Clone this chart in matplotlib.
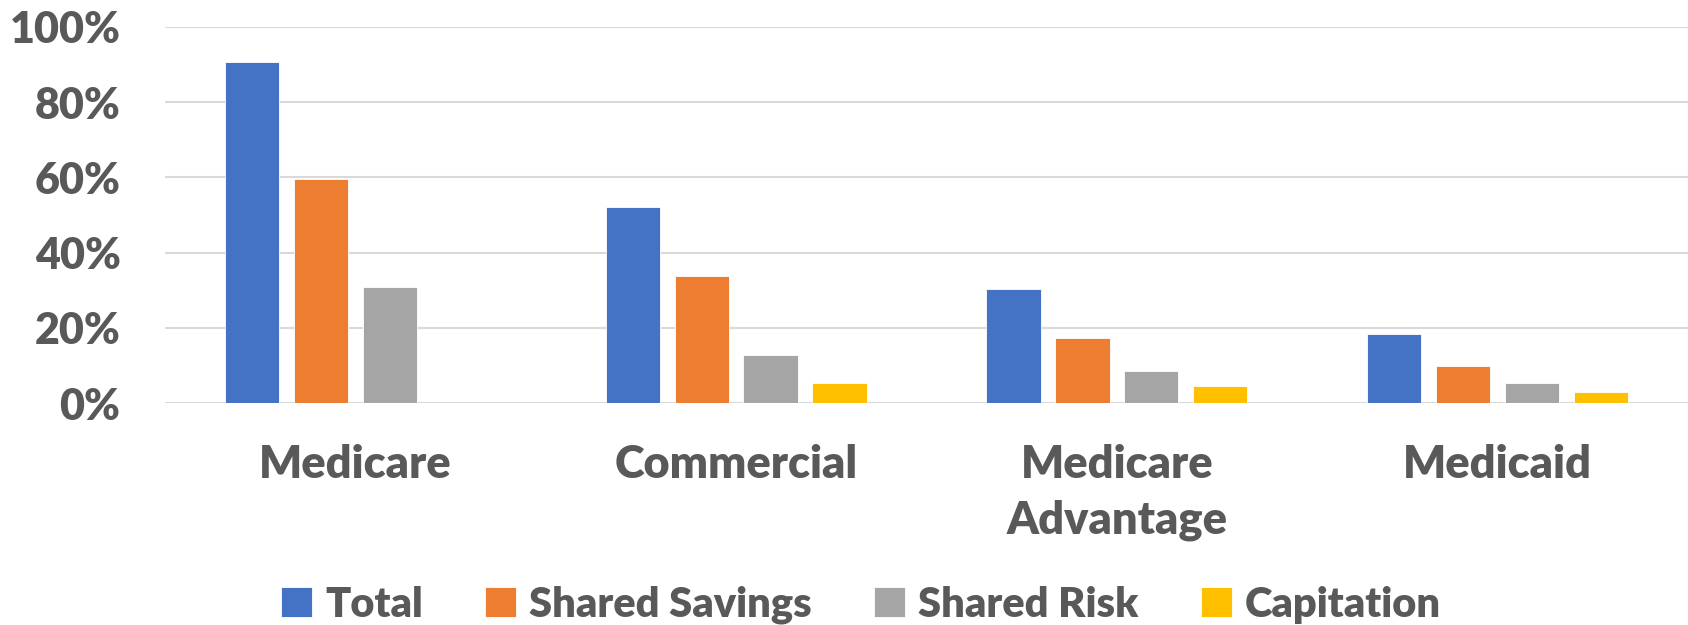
import numpy as np
import matplotlib
matplotlib.use("Agg")
import matplotlib.pyplot as plt

# data (percent)
categories = ["Medicare", "Commercial", "Medicare\nAdvantage", "Medicaid"]
series = ["Total", "Shared Savings", "Shared Risk", "Capitation"]
total = [90.5, 52.2, 30.3, 18.4]
shared_savings = [59.6, 33.7, 17.3, 9.9]
shared_risk = [30.8, 12.8, 8.5, 5.4]
capitation = [0.0, 5.4, 4.5, 2.9]
yticks = [0, 20, 40, 60, 80, 100]
ytick_labels = ["0%", "20%", "40%", "60%", "80%", "100%"]

colors = ["#4472C4", "#ED7D31", "#A5A5A5", "#FFC000"]
text_color = "#595959"
plt.rcParams["font.family"] = ["Lato", "DejaVu Sans"]
plt.rcParams["font.weight"] = "heavy"

fig = plt.figure(figsize=(16.88, 6.25), dpi=100)
ax = fig.add_axes([165 / 1688, 1 - 403.3 / 625, 1 - 165 / 1688, (403.3 - 26.7) / 625])

x = np.arange(len(categories))
step = 0.181
width = 0.1426
for i, (name, vals) in enumerate(zip(series, [total, shared_savings, shared_risk, capitation])):
    ax.bar(x + (i - 1.5) * step, vals, width, color=colors[i], label=name,
           edgecolor="white", linewidth=0.6, zorder=3)

ax.set_xlim(-0.5, len(categories) - 0.5)
ax.set_ylim(0, 100)
ax.set_yticks(yticks)
ax.set_yticklabels(ytick_labels)
ax.set_xticks(x)
ax.set_xticklabels(categories, linespacing=1.45)
ax.tick_params(axis="y", length=0, pad=32, labelsize=31, labelcolor=text_color)
ax.tick_params(axis="x", length=0, pad=29, labelsize=32.5, labelcolor=text_color)
for lab in ax.get_xticklabels() + ax.get_yticklabels():
    lab.set_fontweight("heavy")

ax.grid(axis="y", color="#D9D9D9", linewidth=1.5, zorder=0)
for s in ax.spines.values():
    s.set_visible(False)

leg = fig.legend(loc="center", bbox_to_anchor=(0.51, 0.032), ncol=4, frameon=False,
                 prop={"size": 30, "weight": "heavy"}, handlelength=0.75,
                 handleheight=0.75, handletextpad=0.3, columnspacing=1.5)
for t in leg.get_texts():
    t.set_color(text_color)

fig.savefig("out.png", dpi=100)
